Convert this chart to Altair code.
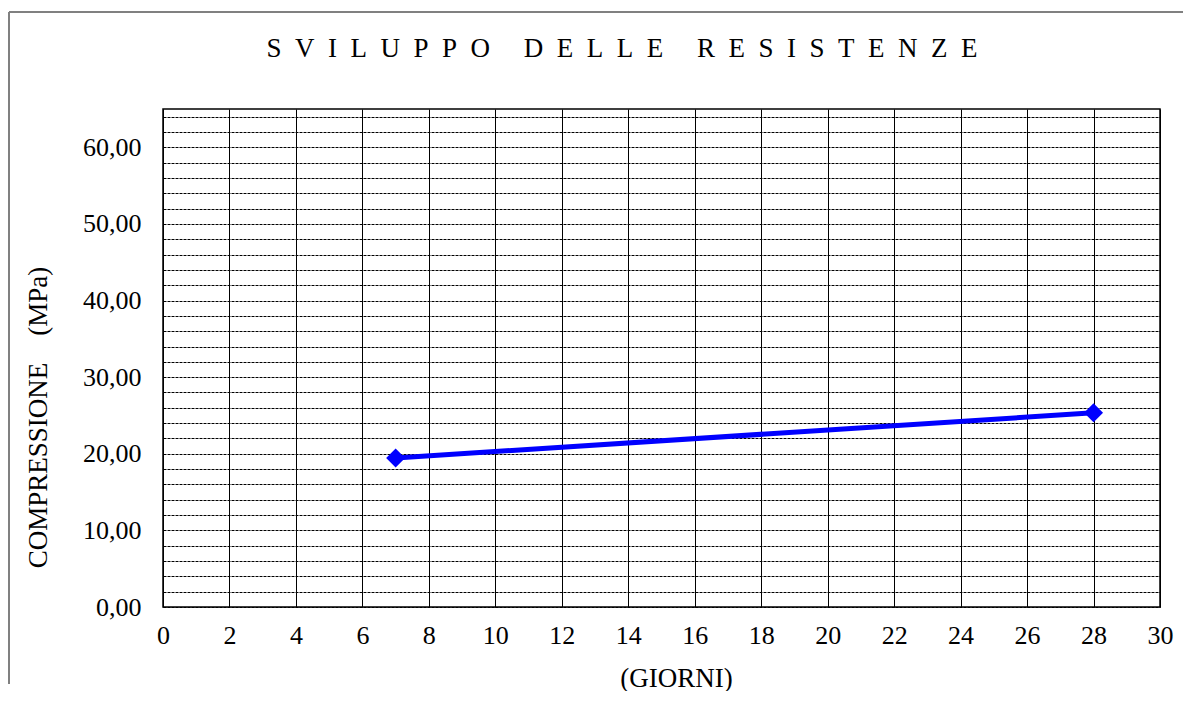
import altair as alt
import pandas as pd

# ---- data ----
giorni = [7, 28]
compressione = [19.45, 25.35]
x_ticks = list(range(0, 31, 2))
y_grid = list(range(0, 65, 2))

title_text = "\u00a0\u2002\u2002".join(["\u2002".join(list(w)) for w in ["SVILUPPO", "DELLE", "RESISTENZE"]])

FONT = "Liberation Serif"
W, H = 997, 498

df = pd.DataFrame({"giorni": giorni, "mpa": compressione})

x_enc = alt.X(
    "giorni:Q",
    scale=alt.Scale(domain=[0, 30], nice=False, zero=False),
    axis=alt.Axis(
        values=x_ticks, title="(GIORNI)", grid=True, gridColor="#000000", gridWidth=1,
        gridOpacity=1, ticks=False, domain=False, labelFont=FONT, labelFontSize=26,
        labelColor="#000000", labelPadding=15, labelFlush=False, labelOverlap=False,
        titleFont=FONT, titleFontSize=27, titleFontWeight="normal", titleColor="#000000",
        titleX=513, titleY=71, titleBaseline="middle", titleAlign="center", format="d",
    ),
)
y_enc = alt.Y(
    "mpa:Q",
    scale=alt.Scale(domain=[0, 65], nice=False),
    axis=alt.Axis(
        values=y_grid,
        labelExpr="datum.value % 10 == 0 ? replace(format(datum.value, '.2f'), '.', ',') : ''",
        grid=True, gridColor="#000000", gridWidth=1, gridDash=[3, 1], gridOpacity=1,
        ticks=False, domain=False, labelFont=FONT, labelFontSize=26, labelColor="#000000",
        labelPadding=22, labelOverlap=False, labelFlush=False,
        title="COMPRESSIONE\u00a0\u00a0\u00a0\u00a0(MPa)", titleFont=FONT, titleFontSize=27,
        titleFontWeight="normal", titleColor="#000000", titleAngle=270,
        titleX=-125, titleY=308, titleAlign="center", titleBaseline="middle",
    ),
)

base = alt.Chart(df).encode(x=x_enc, y=y_enc)
line = base.mark_line(color="#0000FF", strokeWidth=5)
pts = base.mark_point(shape="diamond", filled=True, size=361, color="#0000FF", opacity=1)

dummy = pd.DataFrame({"t": [title_text]})
title = alt.Chart(dummy).mark_text(
    font=FONT, fontSize=27, color="#000000", align="center", baseline="middle"
).encode(text="t:N", x=alt.value(459), y=alt.value(-60))

frame_left = alt.Chart(dummy).mark_rule(color="#808080", strokeWidth=2).encode(
    x=alt.value(-154), y=alt.value(-97), y2=alt.value(575)
)
frame_top = alt.Chart(dummy).mark_rule(color="#808080", strokeWidth=2).encode(
    x=alt.value(-154), x2=alt.value(1020), y=alt.value(-97)
)

chart = (
    alt.layer(frame_left, frame_top, line, pts, title)
    .properties(width=W, height=H, padding={"left": 0, "top": 3, "right": 0, "bottom": 0},
                background="white")
    .configure_view(stroke="#000000", strokeWidth=1.5)
)

chart.save("out.html", embed_options={"renderer": "svg", "actions": False})
